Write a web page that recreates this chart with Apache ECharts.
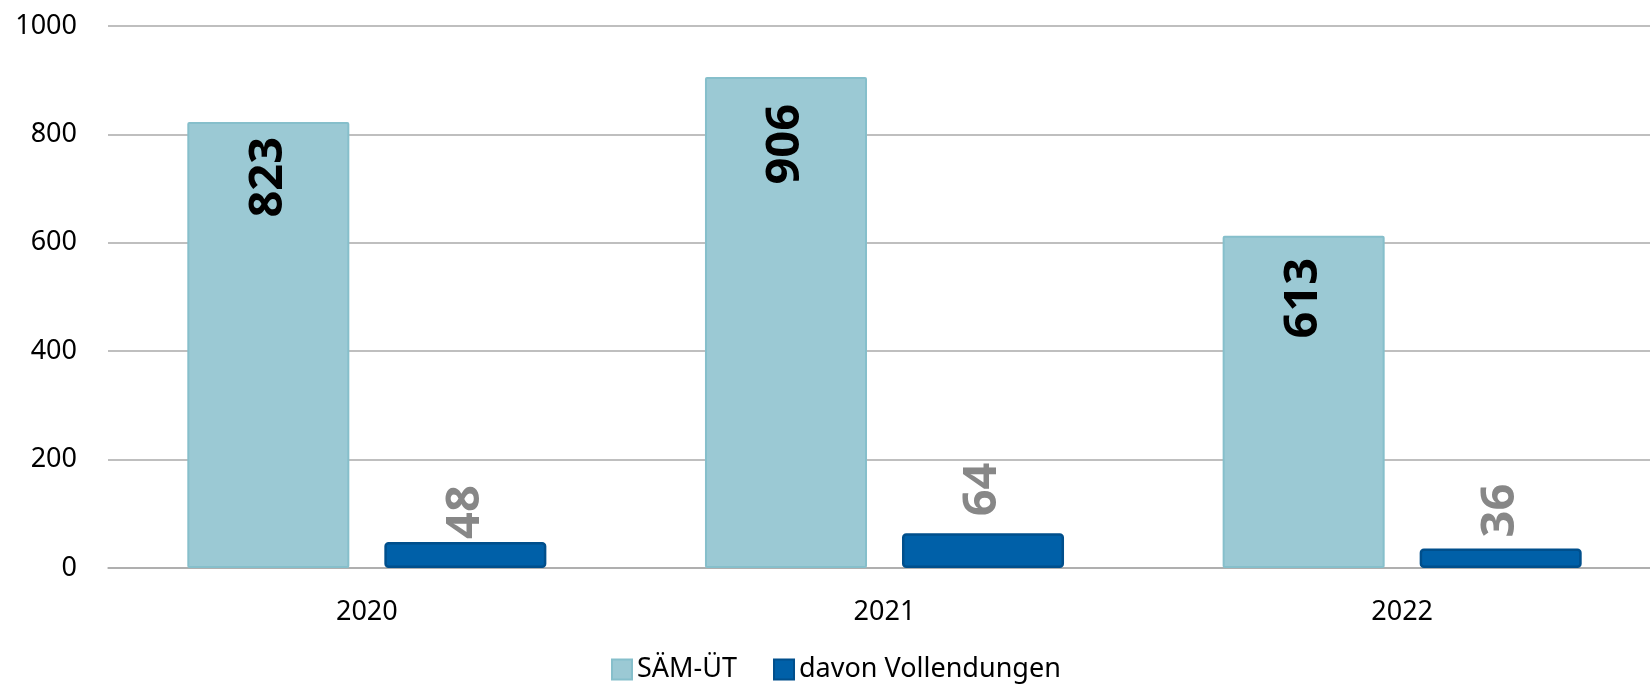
<!DOCTYPE html>
<html>
<head>
<meta charset="utf-8">
<script src="https://cdn.jsdelivr.net/npm/echarts@6/dist/echarts.min.js"></script>
<style>
html,body{margin:0;padding:0;background:#fff;overflow:hidden;width:1650px;height:687px;}
#c{width:1700px;height:687px;}
</style>
</head>
<body>
<div id="c"></div>
<script>
const categories = ['2020', '2021', '2022'];
const seriesNames = ['SÄM-ÜT', 'davon Vollendungen'];
const saemValues = [823, 906, 613];
const vollendungenValues = [48, 64, 36];
const yTicks = [0, 200, 400, 600, 800, 1000];

// label placement offsets (px), as seen in the reference
const saemLabelGap = [15, 27, 22];
const vollLabelGap = [3, 17, 11];

const FONT = '"Noto Sans", "Open Sans", sans-serif';
const chart = echarts.init(document.getElementById('c'), null, {renderer: 'canvas'});
chart.setOption({
  animation: false,
  backgroundColor: '#ffffff',
  textStyle: {fontFamily: FONT},
  grid: {left: 108, top: 26, bottom: 119, width: 1553, containLabel: false},
  legend: {
    left: 611, top: 656, padding: 0,
    icon: 'rect',
    itemWidth: 20, itemHeight: 20, itemGap: 36,
    textStyle: {fontFamily: FONT, fontSize: 27, color: '#000'},
    data: seriesNames
  },
  xAxis: {
    type: 'category',
    data: categories,
    axisLine: {show: true, lineStyle: {color: '#aaaaaa', width: 1.5}},
    axisTick: {show: false},
    axisLabel: {fontFamily: FONT, fontSize: 27, color: '#000', margin: 31}
  },
  yAxis: {
    type: 'value',
    min: yTicks[0], max: yTicks[yTicks.length - 1], interval: 200,
    axisLine: {show: false},
    axisTick: {show: false},
    axisLabel: {fontFamily: FONT, fontSize: 27, color: '#000', margin: 31, formatter: v => String(v)},
    splitLine: {show: true, lineStyle: {color: '#aaaaaa', width: 1.5}}
  },
  series: [
    {
      name: seriesNames[0],
      type: 'bar',
      data: saemValues.map((v, i) => ({value: v, label: {distance: saemLabelGap[i]}})),
      barWidth: '31.3%',
      barGap: '21.6%',
      itemStyle: {color: '#9bc9d4', borderColor: '#86bfcb', borderWidth: 2, borderRadius: 1},
      label: {
        show: true, position: 'insideTop', rotate: 90, align: 'right', verticalAlign: 'middle',
        fontFamily: FONT, fontSize: 47, fontWeight: 'bold', color: '#000'
      }
    },
    {
      name: seriesNames[1],
      type: 'bar',
      data: vollendungenValues.map((v, i) => ({value: v, label: {distance: vollLabelGap[i]}})),
      barWidth: '31.3%',
      itemStyle: {color: '#0060a8', borderColor: '#004f8c', borderWidth: 2.5, borderRadius: 3},
      label: {
        show: true, position: 'top', rotate: 90, align: 'left', verticalAlign: 'middle',
        fontFamily: FONT, fontSize: 47, fontWeight: 'bold', color: '#878787'
      }
    }
  ]
});
</script>
</body>
</html>
